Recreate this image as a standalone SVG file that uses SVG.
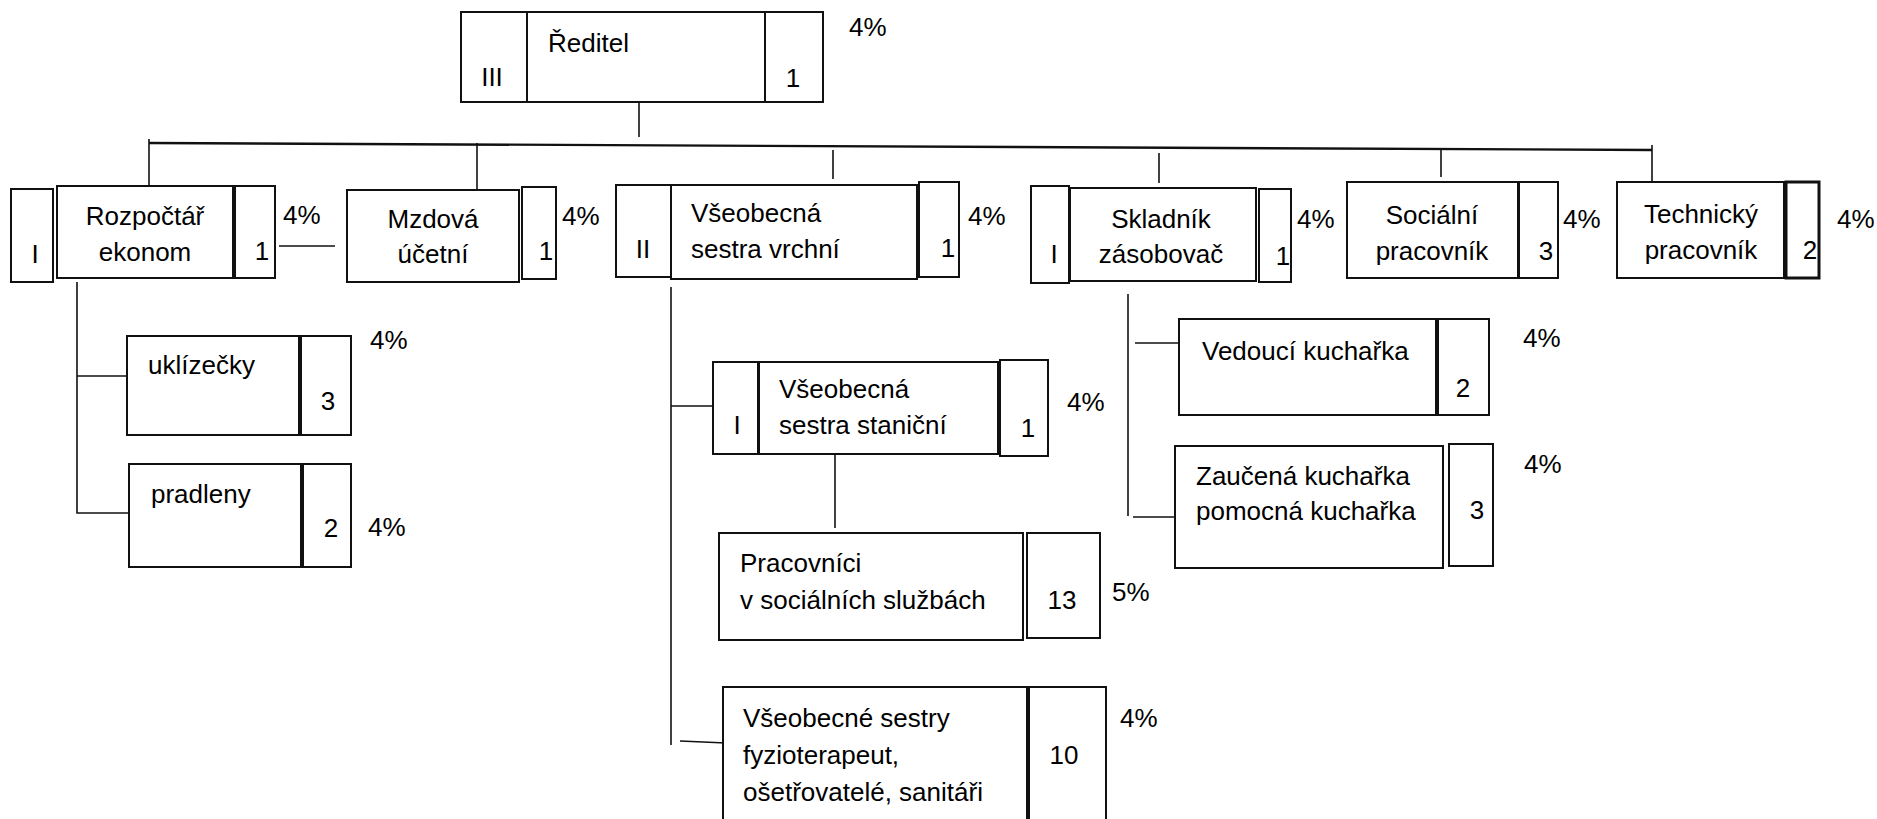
<svg xmlns="http://www.w3.org/2000/svg" width="1877" height="819" viewBox="0 0 1877 819">
<style>
.bg{fill:#fff}
.box{fill:#fff;stroke:#111;stroke-width:2}
.thick{stroke-width:3}
.t{font-family:"Liberation Sans",Arial,sans-serif;font-size:26px;fill:#000}
.m{text-anchor:middle}
.conn{stroke:#111;stroke-width:1.6;fill:none}
.bar{stroke:#111;stroke-width:2.4;fill:none}
</style>
<rect class="bg" x="0" y="0" width="1877" height="819"/>
<g id="connectors">
<path class="conn" d="M639,102 V137"/>
<path class="bar" d="M149,143 L1652,150"/>
<path class="conn" d="M149,139 V186"/>
<path class="conn" d="M477,143 V190"/>
<path class="conn" d="M833,150 V179"/>
<path class="conn" d="M1159,153 V183"/>
<path class="conn" d="M1441,150 V177"/>
<path class="conn" d="M1652,145 V181"/>
<path class="conn" d="M279,246 H335"/>
<path class="conn" d="M77,282 V513 H132"/>
<path class="conn" d="M77,376 H127"/>
<path class="conn" d="M671,287 V745"/>
<path class="conn" d="M671,406 H713"/>
<path class="conn" d="M680,741 L726,743"/>
<path class="conn" d="M835,454 V528"/>
<path class="conn" d="M1128,294 V516"/>
<path class="conn" d="M1135,343 H1179"/>
<path class="conn" d="M1133,517 H1176"/>
</g>
<g id="reditel">
<rect class="box" x="461" y="12" width="66" height="90"/>
<rect class="box" x="527" y="12" width="238" height="90"/>
<rect class="box" x="765" y="12" width="58" height="90"/>
<text class="t m" x="492" y="86">III</text>
<text class="t" x="548" y="52">Ředitel</text>
<text class="t m" x="793" y="87">1</text>
<text class="t" x="849" y="36">4%</text>
</g>
<g id="rozpoctar">
<rect class="box" x="11" y="189" width="42" height="93"/>
<rect class="box" x="57" y="186" width="176" height="92"/>
<rect class="box" x="235" y="186" width="40" height="92"/>
<text class="t m" x="145" y="225">Rozpočtář</text>
<text class="t m" x="145" y="261">ekonom</text>
<text class="t m" x="35" y="263">I</text>
<text class="t m" x="262" y="260">1</text>
<text class="t" x="283" y="224">4%</text>
</g>
<g id="mzdova">
<rect class="box" x="347" y="190" width="172" height="92"/>
<rect class="box" x="522" y="187" width="34" height="92"/>
<text class="t m" x="433" y="228">Mzdová</text>
<text class="t m" x="433" y="263">účetní</text>
<text class="t m" x="546" y="260">1</text>
<text class="t" x="562" y="225">4%</text>
</g>
<g id="sestra-vrchni">
<rect class="box" x="616" y="185" width="55" height="92"/>
<rect class="box" x="671" y="185" width="246" height="94"/>
<rect class="box" x="919" y="182" width="40" height="95"/>
<text class="t" x="691" y="222">Všeobecná</text>
<text class="t" x="691" y="258">sestra vrchní</text>
<text class="t m" x="643" y="258">II</text>
<text class="t m" x="948" y="257">1</text>
<text class="t" x="968" y="225">4%</text>
</g>
<g id="skladnik">
<rect class="box" x="1031" y="186" width="38" height="97"/>
<rect class="box" x="1070" y="188" width="186" height="93"/>
<rect class="box" x="1259" y="189" width="32" height="93"/>
<text class="t m" x="1161" y="228">Skladník</text>
<text class="t m" x="1161" y="263">zásobovač</text>
<text class="t m" x="1054" y="263">I</text>
<text class="t m" x="1283" y="265">1</text>
<text class="t" x="1297" y="228">4%</text>
</g>
<g id="socialni">
<rect class="box" x="1347" y="182" width="171" height="96"/>
<rect class="box" x="1519" y="182" width="39" height="96"/>
<text class="t m" x="1432" y="224">Sociální</text>
<text class="t m" x="1432" y="260">pracovník</text>
<text class="t m" x="1546" y="260">3</text>
<text class="t" x="1563" y="228">4%</text>
</g>
<g id="technicky">
<rect class="box" x="1617" y="182" width="167" height="96"/>
<rect class="box thick" x="1786" y="182" width="33" height="96"/>
<text class="t m" x="1701" y="223">Technický</text>
<text class="t m" x="1701" y="259">pracovník</text>
<text class="t m" x="1810" y="259">2</text>
<text class="t" x="1837" y="228">4%</text>
</g>
<g id="uklizecky">
<rect class="box" x="127" y="336" width="172" height="99"/>
<rect class="box" x="301" y="336" width="50" height="99"/>
<text class="t" x="148" y="374">uklízečky</text>
<text class="t m" x="328" y="410">3</text>
<text class="t" x="370" y="349">4%</text>
</g>
<g id="pradleny">
<rect class="box" x="129" y="464" width="172" height="103"/>
<rect class="box" x="303" y="464" width="48" height="103"/>
<text class="t" x="151" y="503">pradleny</text>
<text class="t m" x="331" y="537">2</text>
<text class="t" x="368" y="536">4%</text>
</g>
<g id="sestra-stanicni">
<rect class="box" x="713" y="362" width="45" height="92"/>
<rect class="box" x="759" y="362" width="239" height="92"/>
<rect class="box" x="1000" y="360" width="48" height="96"/>
<text class="t" x="779" y="398">Všeobecná</text>
<text class="t" x="779" y="434">sestra staniční</text>
<text class="t m" x="737" y="434">I</text>
<text class="t m" x="1028" y="437">1</text>
<text class="t" x="1067" y="411">4%</text>
</g>
<g id="pracovnici">
<rect class="box" x="719" y="533" width="304" height="107"/>
<rect class="box" x="1027" y="533" width="73" height="105"/>
<text class="t" x="740" y="572">Pracovníci</text>
<text class="t" x="740" y="609">v sociálních službách</text>
<text class="t m" x="1062" y="609">13</text>
<text class="t" x="1112" y="601">5%</text>
</g>
<g id="sestry">
<rect class="box" x="723" y="687" width="304" height="145"/>
<rect class="box" x="1029" y="687" width="77" height="145"/>
<text class="t" x="743" y="727">Všeobecné sestry</text>
<text class="t" x="743" y="764">fyzioterapeut,</text>
<text class="t" x="743" y="801">ošetřovatelé, sanitáři</text>
<text class="t m" x="1064" y="764">10</text>
<text class="t" x="1120" y="727">4%</text>
</g>
<g id="vedouci-kucharka">
<rect class="box" x="1179" y="319" width="257" height="96"/>
<rect class="box" x="1438" y="319" width="51" height="96"/>
<text class="t" x="1202" y="360">Vedoucí kuchařka</text>
<text class="t m" x="1463" y="397">2</text>
<text class="t" x="1523" y="347">4%</text>
</g>
<g id="zaucena-kucharka">
<rect class="box" x="1175" y="446" width="268" height="122"/>
<rect class="box" x="1449" y="444" width="44" height="122"/>
<text class="t" x="1196" y="485">Zaučená kuchařka</text>
<text class="t" x="1196" y="520">pomocná kuchařka</text>
<text class="t m" x="1477" y="519">3</text>
<text class="t" x="1524" y="473">4%</text>
</g>
</svg>
